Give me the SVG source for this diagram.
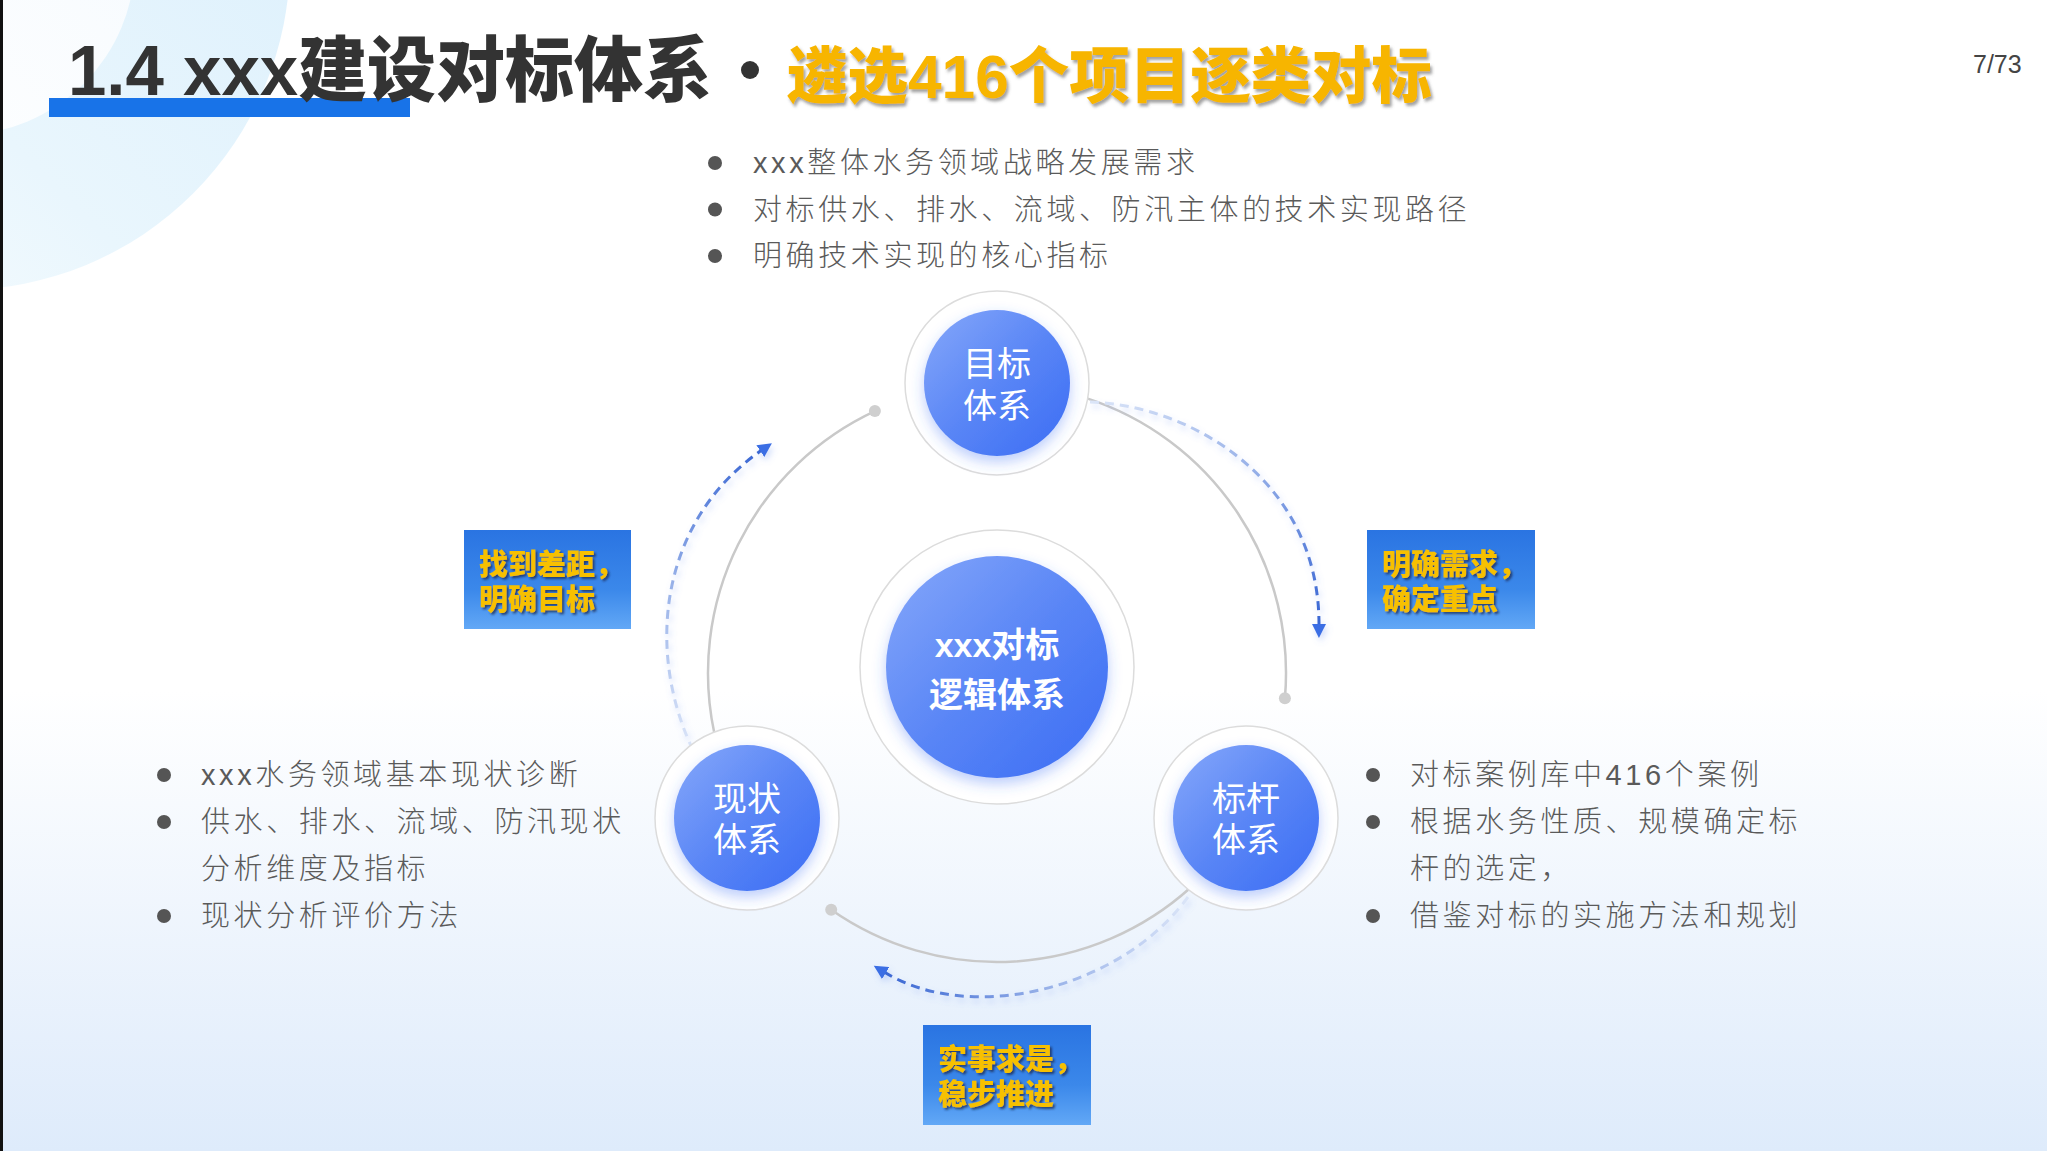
<svg xmlns="http://www.w3.org/2000/svg" width="2047" height="1151" viewBox="0 0 2047 1151">
<defs>
<style>
.cjk{font-family:"Liberation Sans","Noto Sans CJK SC",sans-serif}
.bul{font-family:"Liberation Sans","Noto Sans CJK SC",sans-serif;font-size:29px;font-weight:300;fill:#5a5a5a;letter-spacing:3.6px}
.dot{fill:#555}
.ring{fill:#fff;stroke:#dcdcdc;stroke-width:1.5}
.core{fill:url(#coreGrad)}
.nlab{font-family:"Liberation Sans","Noto Sans CJK SC",sans-serif;font-size:34px;fill:#fff;text-anchor:middle}
.garc{fill:none;stroke:#c9c9c9;stroke-width:2.5}
.gdot{fill:#cfcfcf}
.dash{fill:none;stroke-width:3;stroke-dasharray:9 6;marker-end:url(#ah)}
.lbox{fill:url(#boxGrad)}
.ltxt{font-family:"Liberation Sans","Noto Sans CJK SC",sans-serif;font-size:29px;font-weight:900;fill:#f7c000}
</style>
<linearGradient id="bgGrad" x1="0" y1="0" x2="0" y2="1">
<stop offset="0" stop-color="#ffffff"/>
<stop offset="0.6" stop-color="#ffffff"/>
<stop offset="1" stop-color="#deebfb"/>
</linearGradient>
<linearGradient id="decoGrad" x1="1" y1="0" x2="0" y2="1">
<stop offset="0" stop-color="#d8eefc"/>
<stop offset="0.6" stop-color="#e9f6fd"/>
<stop offset="1" stop-color="#f4fbfe" stop-opacity="0.5"/>
</linearGradient>
<linearGradient id="decoInner" x1="1" y1="0" x2="0" y2="1">
<stop offset="0" stop-color="#f5fafe"/>
<stop offset="1" stop-color="#ffffff"/>
</linearGradient>
<linearGradient id="coreGrad" x1="0" y1="0" x2="1" y2="1">
<stop offset="0" stop-color="#86a8fa"/>
<stop offset="0.5" stop-color="#5a86f6"/>
<stop offset="1" stop-color="#3a6cf4"/>
</linearGradient>
<linearGradient id="boxGrad" x1="0" y1="0" x2="0" y2="1">
<stop offset="0" stop-color="#2a74e2"/>
<stop offset="0.6" stop-color="#3b88ea"/>
<stop offset="1" stop-color="#62a8f6"/>
</linearGradient>
<linearGradient id="gR" gradientUnits="userSpaceOnUse" x1="1090" y1="402" x2="1319" y2="636">
<stop offset="0" stop-color="#dbe5f8"/>
<stop offset="0.5" stop-color="#96b0e8"/>
<stop offset="1" stop-color="#3462d2"/>
</linearGradient>
<linearGradient id="gL" gradientUnits="userSpaceOnUse" x1="693" y1="750" x2="770" y2="443">
<stop offset="0" stop-color="#dbe5f8"/>
<stop offset="0.5" stop-color="#96b0e8"/>
<stop offset="1" stop-color="#3462d2"/>
</linearGradient>
<linearGradient id="gB" gradientUnits="userSpaceOnUse" x1="1188" y1="897" x2="874" y2="967">
<stop offset="0" stop-color="#dbe5f8"/>
<stop offset="0.5" stop-color="#96b0e8"/>
<stop offset="1" stop-color="#3462d2"/>
</linearGradient>
<marker id="ah" markerUnits="userSpaceOnUse" markerWidth="16" markerHeight="14" viewBox="0 0 16 14" refX="2" refY="7" orient="auto">
<path d="M0,0 L14,7 L0,14 z" fill="#3a6ee4"/>
</marker>
<filter id="glow" x="-30%" y="-30%" width="160%" height="170%">
<feDropShadow dx="0" dy="6" stdDeviation="7" flood-color="#3d6ef5" flood-opacity="0.35"/>
</filter>
<filter id="dglow" x="-20%" y="-20%" width="140%" height="140%">
<feDropShadow dx="2" dy="4" stdDeviation="3" flood-color="#6a90f0" flood-opacity="0.3"/>
</filter>
<filter id="tshadow" x="-10%" y="-20%" width="120%" height="150%">
<feDropShadow dx="2" dy="3" stdDeviation="1.5" flood-color="#555" flood-opacity="0.55"/>
</filter>
<filter id="lshadow" x="-10%" y="-20%" width="120%" height="150%">
<feDropShadow dx="2" dy="2" stdDeviation="1" flood-color="#1a2a50" flood-opacity="0.75"/>
</filter>
</defs>

<!-- background -->
<rect x="0" y="0" width="2047" height="1151" fill="url(#bgGrad)"/>
<circle cx="-40" cy="-40" r="330" fill="url(#decoGrad)"/>
<circle cx="-40" cy="-40" r="175" fill="url(#decoInner)"/>
<rect x="0" y="0" width="3" height="1151" fill="#111"/>

<!-- title -->
<g id="title">
<rect x="49" y="98" width="361" height="19" fill="#1873e8"/>
<text x="68" y="95" class="cjk" font-size="71" font-weight="900" fill="#333" textLength="644" lengthAdjust="spacingAndGlyphs">1.4 xxx建设对标体系</text>
<circle cx="750" cy="70" r="9" fill="#333"/>
<text x="787" y="98" class="cjk" font-size="61" font-weight="900" fill="#f7b500" filter="url(#tshadow)" textLength="645" lengthAdjust="spacingAndGlyphs">遴选416个项目逐类对标</text>
</g>
<text id="page" x="1973" y="73" font-family="'Liberation Sans',Arial,sans-serif" font-size="25" fill="#444">7/73</text>

<!-- bullets top -->
<g id="bullets-top">
<circle class="dot" cx="715" cy="163" r="7"/>
<circle class="dot" cx="715" cy="209.5" r="7"/>
<circle class="dot" cx="715" cy="256" r="7"/>
<text class="bul" x="753" y="173">xxx整体水务领域战略发展需求</text>
<text class="bul" x="753" y="220">对标供水、排水、流域、防汛主体的技术实现路径</text>
<text class="bul" x="753" y="266">明确技术实现的核心指标</text>
</g>

<!-- bullets left -->
<g id="bullets-left">
<circle class="dot" cx="164" cy="775" r="7"/>
<circle class="dot" cx="164" cy="822" r="7"/>
<circle class="dot" cx="164" cy="916" r="7"/>
<text class="bul" x="201" y="785">xxx水务领域基本现状诊断</text>
<text class="bul" x="201" y="832">供水、排水、流域、防汛现状</text>
<text class="bul" x="201" y="879">分析维度及指标</text>
<text class="bul" x="201" y="926">现状分析评价方法</text>
</g>

<!-- bullets right -->
<g id="bullets-right">
<circle class="dot" cx="1373" cy="775" r="7"/>
<circle class="dot" cx="1373" cy="822" r="7"/>
<circle class="dot" cx="1373" cy="916" r="7"/>
<text class="bul" x="1410" y="785">对标案例库中416个案例</text>
<text class="bul" x="1410" y="832">根据水务性质、规模确定标</text>
<text class="bul" x="1410" y="879">杆的选定，</text>
<text class="bul" x="1410" y="926">借鉴对标的实施方法和规划</text>
</g>

<!-- connectors -->
<g id="connectors">
<path class="garc" d="M1086.3,398.1 A289,289 0 0 1 1284.9,698.2"/>
<path class="garc" d="M1190.4,887.8 A289,289 0 0 1 831.2,909.7"/>
<path class="garc" d="M714.3,733.1 A289,289 0 0 1 874.9,411.1"/>
<circle class="gdot" cx="1284.9" cy="698.2" r="6"/>
<circle class="gdot" cx="831.2" cy="909.7" r="6"/>
<circle class="gdot" cx="874.9" cy="411.1" r="6"/>
<path class="dash" stroke="url(#gR)" filter="url(#dglow)" d="M1090,402 C1190,405 1320,480 1319,626"/>
<path class="dash" stroke="url(#gL)" filter="url(#dglow)" d="M693,750 C645,650 660,520 762,450"/>
<path class="dash" stroke="url(#gB)" filter="url(#dglow)" d="M1188,897 C1120,990 970,1025 884,972"/>
</g>

<!-- nodes -->
<g id="node-center">
<circle class="ring" cx="997" cy="667" r="137"/>
<circle class="core" cx="997" cy="667" r="111" filter="url(#glow)"/>
<text class="nlab" x="997" y="657" font-weight="700">xxx对标</text>
<text class="nlab" x="997" y="707" font-weight="700">逻辑体系</text>
</g>
<g id="node-target">
<circle class="ring" cx="997" cy="383" r="92"/>
<circle class="core" cx="997" cy="383" r="73" filter="url(#glow)"/>
<text class="nlab" x="997" y="376">目标</text>
<text class="nlab" x="997" y="418">体系</text>
</g>
<g id="node-status">
<circle class="ring" cx="747" cy="818" r="92"/>
<circle class="core" cx="747" cy="818" r="73" filter="url(#glow)"/>
<text class="nlab" x="747" y="811">现状</text>
<text class="nlab" x="747" y="852">体系</text>
</g>
<g id="node-benchmark">
<circle class="ring" cx="1246" cy="818" r="92"/>
<circle class="core" cx="1246" cy="818" r="73" filter="url(#glow)"/>
<text class="nlab" x="1246" y="811">标杆</text>
<text class="nlab" x="1246" y="852">体系</text>
</g>

<!-- labels -->
<g id="label-left">
<rect class="lbox" x="464" y="530" width="167" height="99"/>
<text class="ltxt" x="479" y="575" filter="url(#lshadow)">找到差距，</text>
<text class="ltxt" x="479" y="610" filter="url(#lshadow)">明确目标</text>
</g>
<g id="label-right">
<rect class="lbox" x="1367" y="530" width="168" height="99"/>
<text class="ltxt" x="1382" y="575" filter="url(#lshadow)">明确需求，</text>
<text class="ltxt" x="1382" y="610" filter="url(#lshadow)">确定重点</text>
</g>
<g id="label-bottom">
<rect class="lbox" x="923" y="1025" width="168" height="100"/>
<text class="ltxt" x="938" y="1070" filter="url(#lshadow)">实事求是，</text>
<text class="ltxt" x="938" y="1105" filter="url(#lshadow)">稳步推进</text>
</g>
</svg>
